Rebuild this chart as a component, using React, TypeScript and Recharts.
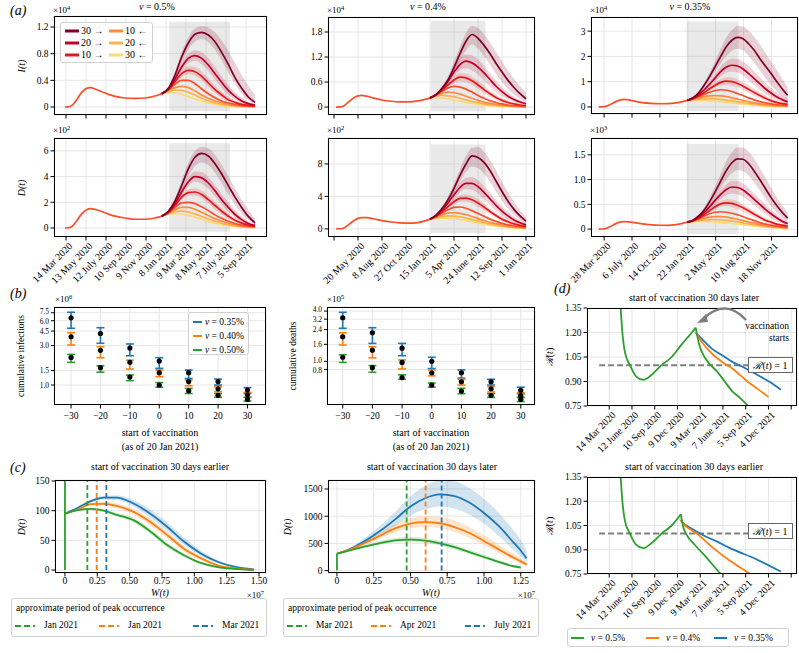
import React from 'react';
import {
  ComposedChart, ScatterChart, Line, Area, Scatter, ErrorBar, XAxis, YAxis,
  CartesianGrid, ReferenceArea, ReferenceLine,
} from 'recharts';

const FONT = '"Liberation Serif", "DejaVu Serif", serif';
// 30 ->, 20 ->, 10 ->, 0, 10 <-, 20 <-, 30 <-
const ramp = ['#800026', '#bd0026', '#e31a1c', '#fc4e2a', '#fd8d3c', '#feb24c', '#fed976'];
const BLUE = '#1f77b4';
const ORANGE = '#ff7f0e';
const GREEN = '#2ca02c';

// ---------- (a) date ticks (days since 1 Mar 2020)
const ticks05 = [13, 73, 133, 193, 253, 313, 373, 433, 493, 553];
const labels05 = ['14 Mar 2020', '13 May 2020', '12 July 2020', '10 Sep 2020', '9 Nov 2020', '8 Jan 2021', '9 Mar 2021', '8 May 2021', '7 July 2021', '5 Sep 2021'];
const ticks04 = [0, 80, 160, 240, 320, 400, 480, 560, 640];
const labels04 = ['', '20 May 2020', '8 Aug 2020', '27 Oct 2020', '15 Jan 2021', '5 Apr 2021', '24 June 2021', '12 Sep 2021', '1 Jan 2021'];
const ticks035 = [27, 127, 227, 327, 427, 527, 627];
const labels035 = ['28 Mar 2020', '6 July 2020', '14 Oct 2020', '22 Jan 2021', '2 May 2021', '10 Aug 2021', '18 Nov 2021'];

// ---------- (a) nu = 0.5%
const dayEarly05 = [10, 20, 30, 45, 60, 75, 87, 100, 120, 140, 160, 190, 220, 250, 280];
const infEarly05 = [0, 0.003, 0.02, 0.11, 0.22, 0.28, 0.29, 0.27, 0.23, 0.19, 0.16, 0.135, 0.13, 0.135, 0.165];
const dthEarly05 = [0, 0.02, 0.1, 0.55, 1.1, 1.42, 1.5, 1.45, 1.28, 1.08, 0.92, 0.78, 0.68, 0.68, 0.78];
const dayLate05 = [300, 320, 340, 360, 380, 400, 420, 440, 460, 480, 500, 520, 540, 560, 580];
const infLate05 = [
  [0.2, 0.28, 0.48, 0.75, 0.96, 1.09, 1.12, 1.08, 0.98, 0.82, 0.64, 0.44, 0.28, 0.15, 0.07],
  [0.2, 0.27, 0.42, 0.6, 0.73, 0.77, 0.73, 0.63, 0.5, 0.37, 0.25, 0.16, 0.09, 0.05, 0.03],
  [0.2, 0.26, 0.38, 0.5, 0.55, 0.53, 0.46, 0.36, 0.26, 0.18, 0.11, 0.07, 0.04, 0.025, 0.015],
  [0.2, 0.26, 0.34, 0.4, 0.4, 0.35, 0.27, 0.2, 0.14, 0.09, 0.06, 0.04, 0.025, 0.015, 0.01],
  [0.2, 0.25, 0.29, 0.31, 0.29, 0.24, 0.18, 0.13, 0.09, 0.06, 0.04, 0.025, 0.015, 0.01, 0.006],
  [0.2, 0.23, 0.255, 0.25, 0.22, 0.18, 0.13, 0.09, 0.06, 0.04, 0.025, 0.016, 0.01, 0.006, 0.004],
  [0.2, 0.215, 0.21, 0.19, 0.16, 0.12, 0.09, 0.06, 0.04, 0.025, 0.016, 0.01, 0.006, 0.004, 0.002],
];
const infLo05 = [
  [0.2, 0.26, 0.43, 0.66, 0.86, 0.98, 1.02, 0.97, 0.86, 0.7, 0.52, 0.34, 0.2, 0.1, 0.04],
  [0.2, 0.25, 0.38, 0.54, 0.66, 0.69, 0.64, 0.54, 0.41, 0.29, 0.18, 0.11, 0.06, 0.03, 0.02],
  [0.2, 0.24, 0.35, 0.45, 0.49, 0.47, 0.4, 0.3, 0.21, 0.14, 0.08, 0.05, 0.03, 0.015, 0.01],
];
const infHi05 = [
  [0.2, 0.3, 0.52, 0.82, 1.05, 1.18, 1.21, 1.19, 1.12, 1.0, 0.84, 0.66, 0.48, 0.32, 0.18],
  [0.2, 0.29, 0.46, 0.66, 0.8, 0.85, 0.82, 0.73, 0.6, 0.46, 0.33, 0.22, 0.14, 0.08, 0.05],
  [0.2, 0.28, 0.41, 0.55, 0.61, 0.6, 0.53, 0.43, 0.32, 0.23, 0.15, 0.1, 0.06, 0.04, 0.02],
];
const dthLate05 = [
  [0.92, 1.3, 2.1, 3.3, 4.6, 5.5, 5.8, 5.6, 5.0, 4.2, 3.3, 2.4, 1.6, 0.9, 0.4],
  [0.92, 1.25, 1.9, 2.8, 3.6, 4.0, 3.9, 3.5, 2.9, 2.2, 1.6, 1.05, 0.65, 0.35, 0.2],
  [0.92, 1.2, 1.75, 2.4, 2.75, 2.8, 2.6, 2.2, 1.75, 1.3, 0.92, 0.6, 0.38, 0.22, 0.12],
  [0.92, 1.18, 1.6, 1.95, 2.0, 1.9, 1.65, 1.35, 1.02, 0.75, 0.52, 0.35, 0.22, 0.14, 0.08],
  [0.92, 1.15, 1.45, 1.6, 1.6, 1.45, 1.22, 0.97, 0.73, 0.53, 0.37, 0.25, 0.16, 0.1, 0.06],
  [0.92, 1.12, 1.3, 1.32, 1.25, 1.1, 0.9, 0.7, 0.52, 0.37, 0.26, 0.17, 0.11, 0.07, 0.04],
  [0.92, 1.08, 1.12, 1.08, 0.98, 0.85, 0.68, 0.52, 0.38, 0.27, 0.19, 0.12, 0.08, 0.05, 0.03],
];
const dthLo05 = [
  [0.92, 1.2, 1.9, 2.9, 4.0, 4.8, 5.1, 4.9, 4.3, 3.5, 2.6, 1.8, 1.1, 0.6, 0.25],
  [0.92, 1.2, 1.75, 2.55, 3.25, 3.6, 3.45, 3.05, 2.45, 1.8, 1.25, 0.8, 0.45, 0.25, 0.12],
  [0.92, 1.15, 1.65, 2.2, 2.5, 2.5, 2.3, 1.9, 1.45, 1.05, 0.72, 0.45, 0.27, 0.15, 0.08],
];
const dthHi05 = [
  [0.92, 1.4, 2.3, 3.7, 5.1, 6.0, 6.3, 6.2, 5.7, 4.9, 4.0, 3.1, 2.2, 1.4, 0.7],
  [0.92, 1.3, 2.05, 3.05, 3.95, 4.4, 4.35, 3.95, 3.35, 2.65, 2.0, 1.4, 0.9, 0.5, 0.3],
  [0.92, 1.25, 1.85, 2.6, 3.0, 3.1, 2.9, 2.5, 2.05, 1.55, 1.12, 0.77, 0.5, 0.3, 0.17],
];

// ---------- (a) nu = 0.4%
const dayEarly04 = [7, 20, 35, 50, 65, 80, 92, 110, 130, 160, 190, 220, 250, 280, 300];
const infEarly04 = [0, 0.005, 0.04, 0.13, 0.22, 0.27, 0.28, 0.26, 0.22, 0.17, 0.14, 0.125, 0.125, 0.15, 0.18];
const dthEarly04 = [0, 0.02, 0.15, 0.55, 0.98, 1.3, 1.4, 1.38, 1.25, 1.02, 0.85, 0.74, 0.7, 0.78, 0.95];
const dayLate04 = [320, 340, 360, 380, 400, 420, 440, 460, 480, 500, 520, 540, 560, 580, 600, 620, 640];
const infLate04 = [
  [0.22, 0.3, 0.45, 0.65, 0.95, 1.28, 1.58, 1.74, 1.65, 1.48, 1.28, 1.05, 0.84, 0.64, 0.47, 0.32, 0.2],
  [0.22, 0.3, 0.43, 0.62, 0.84, 1.02, 1.1, 1.06, 0.96, 0.82, 0.66, 0.5, 0.37, 0.26, 0.18, 0.12, 0.08],
  [0.22, 0.29, 0.4, 0.53, 0.65, 0.72, 0.7, 0.63, 0.53, 0.42, 0.32, 0.23, 0.16, 0.11, 0.075, 0.05, 0.035],
  [0.22, 0.29, 0.38, 0.46, 0.5, 0.48, 0.43, 0.36, 0.28, 0.21, 0.15, 0.11, 0.075, 0.05, 0.035, 0.025, 0.018],
  [0.22, 0.28, 0.33, 0.36, 0.35, 0.31, 0.26, 0.21, 0.16, 0.12, 0.09, 0.065, 0.045, 0.032, 0.023, 0.016, 0.012],
  [0.22, 0.26, 0.28, 0.27, 0.25, 0.21, 0.17, 0.13, 0.1, 0.075, 0.055, 0.04, 0.028, 0.02, 0.014, 0.01, 0.008],
  [0.22, 0.23, 0.22, 0.2, 0.17, 0.14, 0.11, 0.085, 0.065, 0.048, 0.035, 0.026, 0.019, 0.014, 0.01, 0.008, 0.006],
];
const infLo04 = [
  [0.22, 0.28, 0.4, 0.57, 0.82, 1.1, 1.36, 1.5, 1.4, 1.22, 1.02, 0.8, 0.6, 0.43, 0.3, 0.2, 0.12],
  [0.22, 0.28, 0.39, 0.55, 0.74, 0.88, 0.93, 0.88, 0.78, 0.64, 0.5, 0.37, 0.26, 0.18, 0.12, 0.08, 0.05],
  [0.22, 0.28, 0.37, 0.48, 0.57, 0.62, 0.6, 0.53, 0.44, 0.34, 0.25, 0.17, 0.12, 0.08, 0.05, 0.035, 0.025],
];
const infHi04 = [
  [0.22, 0.32, 0.5, 0.74, 1.08, 1.45, 1.78, 1.95, 1.9, 1.75, 1.55, 1.32, 1.1, 0.88, 0.68, 0.5, 0.35],
  [0.22, 0.32, 0.47, 0.69, 0.94, 1.16, 1.26, 1.24, 1.14, 0.99, 0.82, 0.64, 0.48, 0.35, 0.25, 0.17, 0.12],
  [0.22, 0.3, 0.43, 0.58, 0.73, 0.81, 0.8, 0.73, 0.63, 0.51, 0.4, 0.3, 0.21, 0.15, 0.1, 0.07, 0.05],
];
const dthLate04 = [
  [1.2, 1.7, 2.5, 3.6, 5.0, 6.6, 8.0, 9.0, 8.8, 8.2, 7.2, 5.9, 4.6, 3.4, 2.4, 1.6, 0.95],
  [1.2, 1.6, 2.3, 3.2, 4.2, 5.1, 5.6, 5.6, 5.2, 4.5, 3.7, 2.9, 2.2, 1.6, 1.1, 0.75, 0.5],
  [1.2, 1.55, 2.1, 2.75, 3.35, 3.75, 3.8, 3.6, 3.2, 2.7, 2.15, 1.65, 1.2, 0.88, 0.62, 0.43, 0.3],
  [1.2, 1.5, 1.95, 2.35, 2.65, 2.7, 2.55, 2.25, 1.9, 1.55, 1.2, 0.92, 0.68, 0.5, 0.36, 0.26, 0.18],
  [1.2, 1.45, 1.75, 1.95, 2.0, 1.92, 1.75, 1.52, 1.27, 1.03, 0.8, 0.61, 0.46, 0.34, 0.24, 0.17, 0.12],
  [1.2, 1.4, 1.55, 1.6, 1.57, 1.47, 1.32, 1.14, 0.95, 0.77, 0.6, 0.46, 0.34, 0.25, 0.18, 0.13, 0.09],
  [1.2, 1.3, 1.35, 1.33, 1.26, 1.16, 1.03, 0.88, 0.73, 0.59, 0.46, 0.35, 0.26, 0.19, 0.14, 0.1, 0.07],
];
const dthLo04 = [
  [1.2, 1.6, 2.3, 3.2, 4.4, 5.8, 7.0, 7.7, 7.5, 6.8, 5.8, 4.6, 3.5, 2.5, 1.7, 1.1, 0.6],
  [1.2, 1.5, 2.1, 2.9, 3.7, 4.5, 4.9, 4.8, 4.4, 3.7, 2.9, 2.2, 1.6, 1.1, 0.75, 0.5, 0.32],
  [1.2, 1.5, 1.95, 2.5, 3.0, 3.35, 3.35, 3.15, 2.75, 2.3, 1.8, 1.35, 0.97, 0.68, 0.46, 0.31, 0.2],
];
const dthHi04 = [
  [1.2, 1.8, 2.7, 4.0, 5.6, 7.4, 9.0, 10.0, 10.1, 9.5, 8.5, 7.2, 5.8, 4.5, 3.3, 2.3, 1.5],
  [1.2, 1.7, 2.5, 3.5, 4.7, 5.7, 6.3, 6.4, 6.0, 5.3, 4.5, 3.6, 2.8, 2.1, 1.5, 1.05, 0.7],
  [1.2, 1.6, 2.25, 3.0, 3.7, 4.15, 4.25, 4.05, 3.65, 3.1, 2.5, 1.95, 1.45, 1.08, 0.78, 0.55, 0.4],
];

// ---------- (a) nu = 0.35%
const dayEarly035 = [8, 20, 35, 50, 65, 80, 98, 115, 135, 165, 195, 225, 255, 285, 305];
const infEarly035 = [0, 0.004, 0.03, 0.1, 0.19, 0.26, 0.3, 0.28, 0.23, 0.17, 0.14, 0.125, 0.13, 0.16, 0.2];
const dthEarly035 = [0, 0.002, 0.015, 0.05, 0.1, 0.135, 0.15, 0.145, 0.13, 0.105, 0.088, 0.077, 0.075, 0.09, 0.11];
const dayLate035 = [325, 345, 365, 385, 405, 425, 445, 465, 485, 505, 525, 545, 565, 585, 605, 625, 645, 665, 685];
const infLate035 = [
  [0.26, 0.36, 0.55, 0.85, 1.2, 1.6, 2.0, 2.38, 2.64, 2.75, 2.7, 2.5, 2.24, 1.92, 1.62, 1.33, 1.02, 0.72, 0.46],
  [0.26, 0.34, 0.48, 0.67, 0.9, 1.15, 1.4, 1.58, 1.65, 1.62, 1.5, 1.32, 1.12, 0.92, 0.72, 0.55, 0.4, 0.29, 0.2],
  [0.26, 0.33, 0.43, 0.56, 0.72, 0.86, 0.97, 1.02, 1.0, 0.93, 0.82, 0.7, 0.57, 0.45, 0.34, 0.25, 0.18, 0.13, 0.1],
  [0.26, 0.32, 0.4, 0.49, 0.58, 0.65, 0.68, 0.66, 0.61, 0.53, 0.45, 0.36, 0.28, 0.21, 0.16, 0.12, 0.09, 0.07, 0.05],
  [0.26, 0.31, 0.36, 0.41, 0.44, 0.45, 0.44, 0.41, 0.36, 0.31, 0.26, 0.21, 0.16, 0.12, 0.09, 0.07, 0.05, 0.04, 0.03],
  [0.26, 0.29, 0.31, 0.325, 0.33, 0.32, 0.3, 0.27, 0.24, 0.2, 0.17, 0.14, 0.11, 0.08, 0.06, 0.05, 0.04, 0.03, 0.02],
  [0.26, 0.27, 0.27, 0.265, 0.25, 0.23, 0.21, 0.19, 0.16, 0.14, 0.11, 0.09, 0.07, 0.055, 0.04, 0.03, 0.025, 0.02, 0.015],
];
const infLo035 = [
  [0.26, 0.34, 0.5, 0.75, 1.05, 1.4, 1.72, 2.02, 2.22, 2.3, 2.24, 2.02, 1.75, 1.45, 1.15, 0.88, 0.63, 0.42, 0.26],
  [0.26, 0.32, 0.44, 0.6, 0.8, 1.0, 1.2, 1.35, 1.4, 1.36, 1.24, 1.06, 0.87, 0.68, 0.51, 0.37, 0.26, 0.18, 0.12],
  [0.26, 0.32, 0.4, 0.51, 0.64, 0.76, 0.84, 0.87, 0.84, 0.77, 0.66, 0.55, 0.43, 0.33, 0.24, 0.17, 0.12, 0.08, 0.06],
];
const infHi035 = [
  [0.26, 0.38, 0.6, 0.95, 1.36, 1.82, 2.3, 2.75, 3.05, 3.2, 3.18, 3.02, 2.78, 2.48, 2.15, 1.82, 1.48, 1.12, 0.8],
  [0.26, 0.36, 0.52, 0.74, 1.0, 1.3, 1.6, 1.82, 1.92, 1.9, 1.8, 1.62, 1.4, 1.18, 0.96, 0.76, 0.58, 0.43, 0.32],
  [0.26, 0.34, 0.46, 0.61, 0.8, 0.97, 1.1, 1.17, 1.16, 1.1, 0.99, 0.86, 0.72, 0.58, 0.45, 0.34, 0.25, 0.19, 0.15],
];
const dthLate035 = [
  [0.14, 0.18, 0.26, 0.38, 0.55, 0.75, 0.97, 1.18, 1.34, 1.42, 1.41, 1.32, 1.17, 1.0, 0.82, 0.64, 0.48, 0.34, 0.22],
  [0.14, 0.17, 0.24, 0.33, 0.45, 0.58, 0.7, 0.8, 0.85, 0.84, 0.79, 0.7, 0.6, 0.5, 0.4, 0.31, 0.23, 0.16, 0.11],
  [0.14, 0.17, 0.22, 0.29, 0.37, 0.45, 0.51, 0.53, 0.52, 0.48, 0.43, 0.37, 0.3, 0.24, 0.18, 0.14, 0.1, 0.08, 0.06],
  [0.14, 0.17, 0.21, 0.26, 0.31, 0.34, 0.35, 0.34, 0.32, 0.29, 0.25, 0.21, 0.17, 0.13, 0.1, 0.08, 0.06, 0.045, 0.035],
  [0.14, 0.16, 0.19, 0.22, 0.24, 0.25, 0.25, 0.24, 0.22, 0.2, 0.17, 0.14, 0.12, 0.09, 0.07, 0.055, 0.045, 0.035, 0.025],
  [0.14, 0.155, 0.17, 0.185, 0.19, 0.19, 0.185, 0.175, 0.16, 0.145, 0.125, 0.105, 0.09, 0.07, 0.055, 0.045, 0.035, 0.025, 0.02],
  [0.14, 0.15, 0.155, 0.155, 0.15, 0.145, 0.135, 0.125, 0.115, 0.1, 0.09, 0.075, 0.065, 0.05, 0.04, 0.035, 0.025, 0.02, 0.015],
];
const dthLo035 = [
  [0.14, 0.17, 0.23, 0.33, 0.47, 0.64, 0.82, 1.0, 1.13, 1.19, 1.17, 1.08, 0.94, 0.78, 0.62, 0.47, 0.34, 0.23, 0.14],
  [0.14, 0.16, 0.22, 0.29, 0.39, 0.5, 0.6, 0.68, 0.72, 0.7, 0.65, 0.57, 0.48, 0.39, 0.3, 0.23, 0.16, 0.11, 0.07],
  [0.14, 0.16, 0.2, 0.26, 0.33, 0.4, 0.45, 0.46, 0.44, 0.4, 0.35, 0.3, 0.24, 0.19, 0.14, 0.1, 0.07, 0.05, 0.04],
];
const dthHi035 = [
  [0.14, 0.19, 0.29, 0.43, 0.63, 0.87, 1.12, 1.37, 1.55, 1.65, 1.65, 1.56, 1.42, 1.24, 1.04, 0.84, 0.65, 0.48, 0.33],
  [0.14, 0.18, 0.26, 0.37, 0.5, 0.65, 0.79, 0.9, 0.97, 0.97, 0.92, 0.83, 0.72, 0.61, 0.5, 0.39, 0.3, 0.22, 0.15],
  [0.14, 0.18, 0.24, 0.32, 0.41, 0.5, 0.57, 0.6, 0.6, 0.56, 0.5, 0.43, 0.36, 0.29, 0.22, 0.17, 0.13, 0.1, 0.08],
];

const legendALabels = ['30 →', '20 →', '10 →', '10 ←', '20 ←', '30 ←'];
const legendAColor = [0, 1, 2, 4, 5, 6];

// ---------- (b) cumulative totals, start of vaccination shift in days
const startShift = [-30, -20, -10, 0, 10, 20, 30];
const infMed035 = [6.5, 4.2, 2.8, 1.95, 1.41, 1.1, 0.87];
const infLo035b = [4.86, 3.2, 2.26, 1.59, 1.2, 1.0, 0.79];
const infHi035b = [7.6, 4.94, 3.14, 2.14, 1.52, 1.18, 0.93];
const infMed040 = [3.84, 2.63, 1.88, 1.41, 1.1, 0.9, 0.76];
const infLo040 = [3.05, 2.14, 1.56, 1.26, 0.98, 0.83, 0.71];
const infHi040 = [4.3, 2.91, 2.0, 1.52, 1.15, 0.95, 0.81];
const infMed050 = [2.16, 1.62, 1.25, 1.0, 0.85, 0.75, 0.67];
const infLo050 = [1.88, 1.43, 1.13, 0.94, 0.79, 0.71, 0.64];
const infHi050 = [2.35, 1.71, 1.32, 1.07, 0.91, 0.79, 0.71];
const dthMed035 = [3.33, 2.2, 1.44, 1.0, 0.73, 0.57, 0.45];
const dthLo035b = [2.49, 1.64, 1.17, 0.82, 0.63, 0.52, 0.41];
const dthHi035b = [3.87, 2.53, 1.64, 1.12, 0.79, 0.61, 0.49];
const dthMed040 = [1.97, 1.36, 0.97, 0.73, 0.57, 0.47, 0.39];
const dthLo040 = [1.57, 1.1, 0.81, 0.67, 0.52, 0.43, 0.37];
const dthHi040 = [2.2, 1.5, 1.04, 0.79, 0.61, 0.5, 0.42];
const dthMed050 = [1.12, 0.84, 0.64, 0.52, 0.44, 0.39, 0.35];
const dthLo050 = [0.97, 0.74, 0.61, 0.49, 0.41, 0.37, 0.33];
const dthHi050 = [1.2, 0.89, 0.69, 0.55, 0.475, 0.41, 0.37];
const infTicks = [1.0, 1.5, 3.0, 4.5, 6.0, 7.5];
const dthTicks = [0.8, 1.0, 1.6, 2.4, 3.2, 4.0];
// small vertical nudges so the crowded log tick labels do not collide
const infTickNudge: Record<string, number> = { '7.5': -1.2, '6': 0.8 };
const dthTickNudge: Record<string, number> = { '4': -1.4, '3.2': 0.8, '1': -0.8, '0.8': 0.6 };

// ---------- (c) D(t) against W(t)
const wEarlier = [0, 0.1, 0.2, 0.3, 0.4, 0.53, 0.66, 0.79, 0.92, 1.05, 1.18, 1.31, 1.46];
const dBlueEarlier = [95, 105, 116, 122, 122, 112, 95, 73, 48, 28, 14, 5.6, 1];
const dOrangeEarlier = [95, 102, 111, 111.5, 108, 98, 81, 59, 36, 20, 8, 3, 0.5];
const dGreenEarlier = [95, 101, 103, 100, 93, 84, 65, 42, 25, 12, 5, 2, 0];
const dBlueEarlierLo = [95, 104, 114, 119, 118, 107, 88, 66, 42, 24, 11, 4, 0.5];
const dBlueEarlierHi = [95, 106, 118, 125, 126, 118, 102, 80, 55, 33, 17, 7, 1.5];
const dOrangeEarlierLo = [95, 101, 109, 109, 104, 93, 75, 53, 31, 17, 6, 2, 0.3];
const dOrangeEarlierHi = [95, 103, 113, 115, 112, 103, 87, 65, 41, 23, 10, 4, 0.8];
const dGreenEarlierLo = [95, 100, 101, 98, 90, 80, 61, 38, 22, 10, 4, 1.5, 0];
const dGreenEarlierHi = [95, 102, 105, 102, 96, 88, 69, 46, 28, 14, 6, 2.5, 0.2];
const peaksEarlier = [0.32, 0.245, 0.173];

const wLater = [0, 0.1, 0.2, 0.3, 0.4, 0.5, 0.6, 0.7, 0.8, 0.9, 1.0, 1.1, 1.2, 1.25, 1.29];
const dBlueLater = [310, 410, 560, 740, 950, 1180, 1330, 1400, 1370, 1250, 1060, 820, 520, 370, 225];
const dOrangeLater = [310, 400, 520, 650, 780, 865, 890, 870, 800, 690, 545, 390, 240, 170, 110];
const dGreenLater = [310, 380, 450, 510, 555, 570, 550, 500, 430, 340, 250, 160, 80, 55, null];
const dBlueLaterLo = [310, 390, 510, 660, 830, 1010, 1130, 1180, 1140, 1030, 860, 640, 380, 260, 150];
const dBlueLaterHi = [310, 440, 620, 840, 1090, 1360, 1560, 1660, 1640, 1520, 1320, 1060, 740, 560, 380];
const dOrangeLaterLo = [310, 385, 490, 600, 710, 780, 800, 780, 710, 600, 470, 320, 190, 130, 80];
const dOrangeLaterHi = [310, 420, 560, 710, 860, 960, 1000, 990, 920, 800, 650, 480, 310, 225, 150];
const dGreenLaterLo = [310, 370, 430, 480, 520, 530, 510, 460, 390, 305, 220, 135, 60, 40, null];
const dGreenLaterHi = [310, 395, 480, 550, 600, 620, 600, 550, 475, 385, 290, 195, 105, 75, null];
const peaksLater = [0.712, 0.603, 0.474];

const peakLegendEarlier = ['Jan 2021', 'Jan 2021', 'Mar 2021'];
const peakLegendLater = ['Mar 2021', 'Apr 2021', 'July 2021'];

// ---------- (d) effective reproduction number
const ticksR = [13, 103, 193, 283, 373, 463, 553, 643, 733];
const labelsR = ['14 Mar 2020', '12 June 2020', '10 Sep 2020', '9 Dec 2020', '9 Mar 2021', '7 June 2021', '5 Sep 2021', '4 Dec 2021', ''];
const rDayUpLater = [45, 58, 65, 75, 95, 120, 148, 180, 220, 260, 296, 320, 340, 355];
const rUpLater = [1.6, 1.35, 1.2, 1.08, 1.0, 0.93, 0.91, 0.94, 1.0, 1.05, 1.12, 1.165, 1.2, 1.23];
const rDayGreenLater = [355, 370, 390, 415, 440, 470, 500, 530, 563, 575];
const rGreenLater = [1.23, 1.12, 1.05, 1.0, 0.96, 0.9, 0.84, 0.8, 0.75, 0.73];
const rDayOrangeLater = [355, 380, 420, 460, 500, 560, 600, 643];
const rOrangeLater = [1.2, 1.14, 1.07, 1.02, 0.98, 0.9, 0.855, 0.805];
const rDayBlueLater = [355, 380, 420, 460, 500, 540, 600, 650, 692];
const rBlueLater = [1.2, 1.16, 1.1, 1.06, 1.02, 0.99, 0.94, 0.895, 0.85];
const rDayUpEarlier = [45, 58, 65, 75, 95, 120, 148, 180, 220, 260, 296];
const rUpEarlier = [1.6, 1.35, 1.2, 1.08, 1.0, 0.93, 0.91, 0.94, 1.0, 1.05, 1.12];
const rDayGreenEarlier = [296, 306, 320, 346, 399, 455, 465];
const rGreenEarlier = [1.12, 1.04, 0.99, 0.94, 0.85, 0.75, 0.735];
const rDayOrangeEarlier = [296, 306, 330, 359, 425, 492, 571, 580];
const rOrangeEarlier = [1.085, 1.06, 1.03, 1.0, 0.91, 0.83, 0.75, 0.74];
const rDayBlueEarlier = [296, 300, 340, 385, 440, 491, 597, 692];
const rBlueEarlier = [1.085, 1.075, 1.03, 0.99, 0.95, 0.91, 0.84, 0.765];
const rTicks = [0.75, 0.9, 1.05, 1.2, 1.35];

// ---------- helpers
type Rect = { x: number; y: number; w: number; h: number };
const YW = 40;
const MT = 4;
const MR = 4;
const GRID = '#e6e6e6';
const tickStyle = { fontSize: 9.5, fill: '#000', fontFamily: FONT };

function epiRows(dayEarly: number[], early: number[], dayLate: number[], late: number[][], lo: number[][], hi: number[][]) {
  const rows: any[] = dayEarly.map((t, i) => ({ t, s3: early[i] }));
  dayLate.forEach((t, i) => {
    const row: any = { t };
    late.forEach((s, k) => { row['s' + k] = s[i]; });
    lo.forEach((s, k) => { row['b' + k] = [s[i], hi[k][i]]; });
    rows.push(row);
  });
  return rows;
}

function peakRows(w: number[], b: any[], o: any[], g: any[], bl: any[], bh: any[], ol: any[], oh: any[], gl: any[], gh: any[]) {
  return w.map((x, i) => ({
    w: x, b: b[i], o: o[i], g: g[i],
    bb: [bl[i], bh[i]], ob: [ol[i], oh[i]],
    gb: g[i] == null ? undefined : [gl[i], gh[i]],
  }));
}

function cumData(med: number[], lo: number[], hi: number[]) {
  return startShift.map((x, i) => ({ x, y: med[i], err: [med[i] - lo[i], hi[i] - med[i]] }));
}

function rPts(days: number[], vals: number[]) {
  return days.map((t, i) => ({ t, r: vals[i] }));
}

function dateTick(ticks: number[], labels: string[]) {
  return (p: any) => {
    const i = ticks.indexOf(p.payload.value);
    return (
      <text transform={`translate(${p.x + 2},${p.y - 1}) rotate(-45)`} textAnchor="end" dominantBaseline="hanging"
        fontSize={10} fill="#000" fontFamily={FONT}>
        {labels[i] ?? ''}
      </text>
    );
  };
}
const noTick = () => <g />;

function logTick(nudge: Record<string, number>) {
  return (p: any) => (
    <text x={p.x} y={p.y + (nudge[String(p.payload.value)] ?? 0)} textAnchor="end" dominantBaseline="central"
      fontSize={7.5} fill="#000" fontFamily={FONT}>
      {Number(p.payload.value).toFixed(1)}
    </text>
  );
}

function Frame({ w, h }: { w: number; h: number }) {
  return (
    <div style={{ position: 'absolute', left: YW, top: MT, width: w, height: h, border: '1px solid #000', boxSizing: 'border-box', pointerEvents: 'none' }} />
  );
}

function Txt({ x, y, a = 'l', size = 10, rot = 0, italic = false, children }: any) {
  const tx = a === 'c' ? '-50%' : a === 'r' ? '-100%' : '0';
  return (
    <div style={{
      position: 'absolute', left: x, top: y, transform: `translate(${tx}, -50%)${rot ? ` rotate(${rot}deg)` : ''}`,
      whiteSpace: 'nowrap', fontSize: size, fontStyle: italic ? 'italic' : 'normal', lineHeight: 1,
    }}>{children}</div>
  );
}

function Sci({ x, y, p, a = 'l' }: any) {
  return (
    <Txt x={x} y={y} a={a} size={9}>
      ×10<span style={{ fontSize: 6.5, position: 'relative', top: -3, lineHeight: 0 }}>{p}</span>
    </Txt>
  );
}

type EpiProps = {
  r: Rect; rows: any[]; domX: number[]; ticksX: number[]; labelsX?: string[];
  domY: number[]; ticksY: number[]; box: number[]; fmtY?: (v: number) => string;
};

function EpiChart({ r, rows, domX, ticksX, labelsX, domY, ticksY, box, fmtY }: EpiProps) {
  const xh = labelsX ? 64 : 8;
  return (
    <div style={{ position: 'absolute', left: r.x - YW, top: r.y - MT }}>
      <ComposedChart width={r.w + YW + MR} height={r.h + MT + xh} data={rows} margin={{ top: MT, right: MR, left: 0, bottom: 0 }}>
        <CartesianGrid stroke={GRID} />
        <ReferenceArea x1={box[0]} x2={box[1]} y1={box[2]} y2={box[3]} fill="#9a9a9a" fillOpacity={0.22} stroke="none" />
        <XAxis type="number" dataKey="t" domain={domX} ticks={ticksX} interval={0} allowDataOverflow axisLine={false}
          tickSize={3.5} tickLine={{ stroke: '#000' }} height={xh} tick={labelsX ? dateTick(ticksX, labelsX) : noTick} />
        <YAxis type="number" domain={domY} ticks={ticksY} interval={0} allowDataOverflow axisLine={false}
          tickSize={3.5} tickLine={{ stroke: '#000' }} width={YW} tick={tickStyle} tickFormatter={fmtY} />
        {[2, 1, 0].map((k) => (
          <Area key={'b' + k} type="monotone" dataKey={'b' + k} stroke="none" fill={ramp[k]} fillOpacity={0.18} isAnimationActive={false} />
        ))}
        {[6, 5, 4, 3, 2, 1, 0].map((k) => (
          <Line key={'s' + k} type="monotone" dataKey={'s' + k} stroke={ramp[k]} strokeWidth={1.7} dot={false} isAnimationActive={false} />
        ))}
      </ComposedChart>
      <Frame w={r.w} h={r.h} />
    </div>
  );
}

const dot = (p: any) => <circle cx={p.cx} cy={p.cy} r={2.6} fill="#000" />;
const minus = (v: number) => (v < 0 ? '−' + Math.abs(v) : String(v));

function CumChart({ r, domY, ticksY, nudge, series }: any) {
  return (
    <div style={{ position: 'absolute', left: r.x - YW, top: r.y - MT }}>
      <ScatterChart width={r.w + YW + MR} height={r.h + MT + 22} margin={{ top: MT, right: MR, left: 0, bottom: 0 }}>
        <CartesianGrid stroke={GRID} />
        <XAxis type="number" dataKey="x" domain={r.domX} ticks={startShift} interval={0} allowDataOverflow axisLine={false}
          tickSize={3.5} tickMargin={4} tickLine={{ stroke: '#000' }} height={22} tick={tickStyle} tickFormatter={minus} />
        <YAxis type="number" dataKey="y" scale="log" domain={domY} ticks={ticksY} interval={0} allowDataOverflow axisLine={false}
          tickSize={3} tickLine={{ stroke: '#000' }} width={YW} tick={logTick(nudge)} />
        {series.map((s: any) => (
          <Scatter key={s.color} data={s.data} fill="#000" shape={dot} isAnimationActive={false}>
            <ErrorBar dataKey="err" direction="y" width={4} stroke={s.color} strokeWidth={1.6} />
          </Scatter>
        ))}
      </ScatterChart>
      <Frame w={r.w} h={r.h} />
    </div>
  );
}

function PeakChart({ r, rows, domX, ticksX, domY, ticksY, peaks, startY }: any) {
  const cols = [BLUE, ORANGE, GREEN];
  return (
    <div style={{ position: 'absolute', left: r.x - YW, top: r.y - MT }}>
      <ComposedChart width={r.w + YW + MR} height={r.h + MT + 20} data={rows} margin={{ top: MT, right: MR, left: 0, bottom: 0 }}>
        <CartesianGrid stroke={GRID} />
        <XAxis type="number" dataKey="w" domain={domX} ticks={ticksX} interval={0} allowDataOverflow axisLine={false}
          tickSize={3.5} tickMargin={1} tickLine={{ stroke: '#000' }} height={20} tick={tickStyle}
          tickFormatter={(v: number) => (v === 0 ? '0' : v.toFixed(2))} />
        <YAxis type="number" domain={domY} ticks={ticksY} interval={0} allowDataOverflow axisLine={false}
          tickSize={3.5} tickLine={{ stroke: '#000' }} width={YW} tick={tickStyle} />
        {['bb', 'ob', 'gb'].map((k, i) => (
          <Area key={k} type="monotone" dataKey={k} stroke="none" fill={cols[i]} fillOpacity={0.2} isAnimationActive={false} />
        ))}
        {['b', 'o', 'g'].map((k, i) => (
          <Line key={k} type="monotone" dataKey={k} stroke={cols[i]} strokeWidth={1.8} dot={false} isAnimationActive={false} />
        ))}
        <ReferenceLine segment={[{ x: 0, y: 0 }, { x: 0, y: startY }]} stroke={GREEN} strokeWidth={1.8} />
        {peaks.map((p: number, i: number) => (
          <ReferenceLine key={i} segment={[{ x: p, y: 0 }, { x: p, y: domY[1] - 0.5 }]} stroke={cols[i]} strokeWidth={1.8} strokeDasharray="5 3" />
        ))}
      </ComposedChart>
      <Frame w={r.w} h={r.h} />
    </div>
  );
}

function RChart({ r, lines }: any) {
  return (
    <div style={{ position: 'absolute', left: r.x - YW, top: r.y - MT }}>
      <ComposedChart width={r.w + YW + MR} height={r.h + MT + 64} margin={{ top: MT, right: MR, left: 0, bottom: 0 }}>
        <CartesianGrid stroke={GRID} />
        <XAxis type="number" dataKey="t" domain={[-75, 756]} ticks={ticksR} interval={0} allowDataOverflow axisLine={false}
          tickSize={3.5} tickLine={{ stroke: '#000' }} height={64} tick={dateTick(ticksR, labelsR)} />
        <YAxis type="number" domain={[0.75, 1.35]} ticks={rTicks} interval={0} allowDataOverflow axisLine={false}
          tickSize={3.5} tickLine={{ stroke: '#000' }} width={YW} tick={tickStyle} tickFormatter={(v: number) => v.toFixed(2)} />
        <ReferenceLine segment={[{ x: -27, y: 1 }, { x: 580, y: 1 }]} stroke="#7f7f7f" strokeWidth={2} strokeDasharray="6 3" />
        {lines.map((l: any, i: number) => (
          <Line key={i} data={l.data} dataKey="r" type="monotone" stroke={l.color} strokeWidth={1.8} dot={false} isAnimationActive={false} />
        ))}
      </ComposedChart>
      <Frame w={r.w} h={r.h} />
    </div>
  );
}

function RBox({ x, y }: any) {
  return (
    <div style={{ position: 'absolute', left: x, top: y, width: 45, height: 16, border: '1px solid #666', background: '#fff', boxSizing: 'border-box', fontSize: 10, display: 'flex', alignItems: 'center', justifyContent: 'center' }}>
      <span><i>ℛ</i>(<i>t</i>) = 1</span>
    </div>
  );
}

function Swatch({ color, dashed, w = 20 }: any) {
  return (
    <svg width={w} height={6} style={{ display: 'block' }}>
      <line x1={0} y1={3} x2={w} y2={3} stroke={color} strokeWidth={2} strokeDasharray={dashed ? '6 3' : undefined} />
    </svg>
  );
}

function PeakLegend({ x, labels }: any) {
  const cols = [GREEN, ORANGE, BLUE];
  const off = [3, 87, 181];
  return (
    <div style={{ position: 'absolute', left: x, top: 598, width: 256, height: 39, border: '1px solid #d0d0d0', borderRadius: 3, boxSizing: 'border-box', fontSize: 9.5 }}>
      <div style={{ position: 'absolute', left: 4, top: 4 }}>approximate period of peak occurrence</div>
      {labels.map((l: string, i: number) => (
        <React.Fragment key={i}>
          <div style={{ position: 'absolute', left: off[i], top: 24 }}><Swatch color={cols[i]} dashed /></div>
          <div style={{ position: 'absolute', left: off[i] + 29, top: 21 }}>{l}</div>
        </React.Fragment>
      ))}
    </div>
  );
}

export default function App() {
  const a1I: Rect = { x: 54, y: 16, w: 213, h: 99 };
  const a1D: Rect = { x: 54, y: 138, w: 213, h: 99 };
  const a2I: Rect = { x: 328, y: 17, w: 207, h: 98 };
  const a2D: Rect = { x: 328, y: 138, w: 207, h: 99 };
  const a3I: Rect = { x: 591, y: 17, w: 207, h: 97 };
  const a3D: Rect = { x: 591, y: 138, w: 207, h: 99 };
  const b1: any = { x: 54, y: 307, w: 212, h: 98, domX: [-35.8, 36.3] };
  const b2: any = { x: 327, y: 307, w: 208, h: 98, domX: [-35.3, 34.8] };
  const c1: Rect = { x: 55, y: 480, w: 211, h: 93 };
  const c2: Rect = { x: 328, y: 480, w: 207, h: 93 };
  const d1: Rect = { x: 587, y: 308, w: 210, h: 98 };
  const d2: Rect = { x: 587, y: 477, w: 210, h: 97 };

  const infSeries = [
    { color: BLUE, data: cumData(infMed035, infLo035b, infHi035b) },
    { color: ORANGE, data: cumData(infMed040, infLo040, infHi040) },
    { color: GREEN, data: cumData(infMed050, infLo050, infHi050) },
  ];
  const dthSeries = [
    { color: BLUE, data: cumData(dthMed035, dthLo035b, dthHi035b) },
    { color: ORANGE, data: cumData(dthMed040, dthLo040, dthHi040) },
    { color: GREEN, data: cumData(dthMed050, dthLo050, dthHi050) },
  ];

  return (
    <div style={{ position: 'absolute', left: 0, top: 0, width: 799, height: 653, background: '#fff', fontFamily: FONT, color: '#000', overflow: 'hidden' }}>
      <EpiChart r={a1I} rows={epiRows(dayEarly05, infEarly05, dayLate05, infLate05, infLo05, infHi05)} domX={[-23, 616]} ticksX={ticks05}
        domY={[-0.12, 1.365]} ticksY={[0, 0.4, 0.8, 1.2]} box={[323, 505, -0.06, 1.28]} />
      <EpiChart r={a1D} rows={epiRows(dayEarly05, dthEarly05, dayLate05, dthLate05, dthLo05, dthHi05)} domX={[-23, 616]} ticksX={ticks05} labelsX={labels05}
        domY={[-0.7, 7.0]} ticksY={[0, 2, 4, 6]} box={[323, 505, -0.3, 6.6]} />
      <EpiChart r={a2I} rows={epiRows(dayEarly04, infEarly04, dayLate04, infLate04, infLo04, infHi04)} domX={[-20, 670]} ticksX={ticks04}
        domY={[-0.19, 2.16]} ticksY={[0, 0.6, 1.2, 1.8]} box={[323, 505, -0.1, 2.07]} />
      <EpiChart r={a2D} rows={epiRows(dayEarly04, dthEarly04, dayLate04, dthLate04, dthLo04, dthHi04)} domX={[-20, 670]} ticksX={ticks04} labelsX={labels04}
        domY={[-1.0, 11.2]} ticksY={[0, 4, 8]} box={[323, 505, -0.5, 10.4]} />
      <EpiChart r={a3I} rows={epiRows(dayEarly035, infEarly035, dayLate035, infLate035, infLo035, infHi035)} domX={[-20, 722]} ticksX={ticks035}
        domY={[-0.28, 3.56]} ticksY={[0, 1, 2, 3]} box={[323, 509, -0.16, 3.38]} />
      <EpiChart r={a3D} rows={epiRows(dayEarly035, dthEarly035, dayLate035, dthLate035, dthLo035, dthHi035)} domX={[-20, 722]} ticksX={ticks035} labelsX={labels035}
        domY={[-0.16, 1.84]} ticksY={[0, 0.5, 1.0, 1.5]} box={[323, 509, -0.1, 1.72]} fmtY={(v) => (v === 0 ? '0' : v.toFixed(1))} />

      <CumChart r={b1} domY={[0.573, 8.8]} ticksY={infTicks} nudge={infTickNudge} series={infSeries} />
      <CumChart r={b2} domY={[0.30, 4.48]} ticksY={dthTicks} nudge={dthTickNudge} series={dthSeries} />

      <PeakChart r={c1} rows={peakRows(wEarlier, dBlueEarlier, dOrangeEarlier, dGreenEarlier, dBlueEarlierLo, dBlueEarlierHi, dOrangeEarlierLo, dOrangeEarlierHi, dGreenEarlierLo, dGreenEarlierHi)}
        domX={[-0.077, 1.554]} ticksX={[0, 0.25, 0.5, 0.75, 1.0, 1.25, 1.5]} domY={[-5, 151.7]} ticksY={[0, 50, 100, 150]} peaks={peaksEarlier} startY={150} />
      <PeakChart r={c2} rows={peakRows(wLater, dBlueLater, dOrangeLater, dGreenLater, dBlueLaterLo, dBlueLaterHi, dOrangeLaterLo, dOrangeLaterHi, dGreenLaterLo, dGreenLaterHi)}
        domX={[-0.061, 1.347]} ticksX={[0, 0.25, 0.5, 0.75, 1.0, 1.25]} domY={[-44, 1665]} ticksY={[0, 500, 1000, 1500]} peaks={peaksLater} startY={310} />

      <RChart r={d1} lines={[
        { color: BLUE, data: rPts(rDayBlueLater, rBlueLater) },
        { color: ORANGE, data: rPts(rDayOrangeLater, rOrangeLater) },
        { color: GREEN, data: rPts(rDayUpLater, rUpLater) },
        { color: GREEN, data: rPts(rDayGreenLater, rGreenLater) },
      ]} />
      <RChart r={d2} lines={[
        { color: BLUE, data: rPts(rDayBlueEarlier, rBlueEarlier) },
        { color: ORANGE, data: rPts(rDayOrangeEarlier, rOrangeEarlier) },
        { color: GREEN, data: rPts(rDayUpEarlier, rUpEarlier) },
        { color: GREEN, data: rPts(rDayGreenEarlier, rGreenEarlier) },
      ]} />

      {/* panel letters and titles */}
      <Txt x={10} y={11} size={14} italic>(a)</Txt>
      <Txt x={10} y={294} size={14} italic>(b)</Txt>
      <Txt x={10} y={468} size={14} italic>(c)</Txt>
      <Txt x={554} y={289} size={14} italic>(d)</Txt>
      <Txt x={157} y={7} a="c"><i>ν</i> = 0.5%</Txt>
      <Txt x={428} y={7} a="c"><i>ν</i> = 0.4%</Txt>
      <Txt x={690} y={7} a="c"><i>ν</i> = 0.35%</Txt>
      <Txt x={160} y={467} a="c">start of vaccination 30 days earlier</Txt>
      <Txt x={432} y={467} a="c">start of vaccination 30 days later</Txt>
      <Txt x={694} y={298} a="c">start of vaccination 30 days later</Txt>
      <Txt x={694} y={467} a="c">start of vaccination 30 days earlier</Txt>

      {/* scale multipliers */}
      <Sci x={53} y={10} p={4} />
      <Sci x={53} y={130} p={2} />
      <Sci x={327} y={10} p={4} />
      <Sci x={327} y={130} p={2} />
      <Sci x={590} y={10} p={4} />
      <Sci x={590} y={130} p={3} />
      <Sci x={55} y={299} p={6} />
      <Sci x={327} y={299} p={5} />
      <Sci x={264} y={595} p={7} a="r" />
      <Sci x={535} y={595} p={7} a="r" />

      {/* axis labels */}
      <Txt x={22} y={66} a="c" rot={-90} italic>I(t)</Txt>
      <Txt x={22} y={188} a="c" rot={-90} italic>D(t)</Txt>
      <Txt x={22} y={356} a="c" rot={-90} size={9.5}>cumulative infections</Txt>
      <Txt x={294} y={356} a="c" rot={-90} size={9.5}>cumulative deaths</Txt>
      <Txt x={22} y={527} a="c" rot={-90} italic>D(t)</Txt>
      <Txt x={288} y={527} a="c" rot={-90} italic>D(t)</Txt>
      <Txt x={550} y={357} a="c" rot={-90}><i>ℛ</i>(<i>t</i>)</Txt>
      <Txt x={550} y={526} a="c" rot={-90}><i>ℛ</i>(<i>t</i>)</Txt>
      <Txt x={160} y={433} a="c">start of vaccination</Txt>
      <Txt x={160} y={447} a="c">(as of 20 Jan 2021)</Txt>
      <Txt x={431} y={433} a="c">start of vaccination</Txt>
      <Txt x={431} y={447} a="c">(as of 20 Jan 2021)</Txt>
      <Txt x={160} y={593} a="c" italic>W(t)</Txt>
      <Txt x={431} y={593} a="c" italic>W(t)</Txt>

      {/* (a) legend */}
      <div style={{ position: 'absolute', left: 60, top: 22, width: 93, height: 41, border: '1px solid #d0d0d0', borderRadius: 3, background: 'rgba(255,255,255,0.85)', boxSizing: 'border-box', fontSize: 10 }}>
        {legendALabels.map((l, i) => {
          const col = i < 3 ? 0 : 1;
          const row = i % 3;
          return (
            <React.Fragment key={l}>
              <div style={{ position: 'absolute', left: 4 + col * 44, top: 5 + row * 12 }}>
                <svg width={14} height={6} style={{ display: 'block' }}><line x1={0} y1={3} x2={14} y2={3} stroke={ramp[legendAColor[i]]} strokeWidth={3} /></svg>
              </div>
              <div style={{ position: 'absolute', left: 20 + col * 44, top: 2 + row * 12, lineHeight: '12px' }}>{l}</div>
            </React.Fragment>
          );
        })}
      </div>

      {/* (b) legend */}
      <div style={{ position: 'absolute', left: 188, top: 312, width: 61, height: 43, border: '1px solid #d0d0d0', borderRadius: 3, background: 'rgba(255,255,255,0.85)', boxSizing: 'border-box', fontSize: 9.5 }}>
        {[[BLUE, '0.35%'], [ORANGE, '0.40%'], [GREEN, '0.50%']].map(([c, l], i) => (
          <React.Fragment key={l}>
            <div style={{ position: 'absolute', left: 4, top: 6 + i * 14 }}><Swatch color={c} w={9} /></div>
            <div style={{ position: 'absolute', left: 16, top: 3 + i * 14, lineHeight: '12px' }}><i>ν</i> = {l}</div>
          </React.Fragment>
        ))}
      </div>

      <PeakLegend x={11} labels={peakLegendEarlier} />
      <PeakLegend x={283} labels={peakLegendLater} />

      {/* (d) annotations */}
      <RBox x={748} y={357} />
      <RBox x={748} y={523} />
      <Txt x={789} y={327} a="r" size={9.5}>vaccination</Txt>
      <Txt x={789} y={339} a="r" size={9.5}>starts</Txt>
      <svg width={799} height={653} style={{ position: 'absolute', left: 0, top: 0, pointerEvents: 'none' }}>
        <path d="M 746 320 Q 726 298 704 318" fill="none" stroke="#7f7f7f" strokeWidth={2.5} />
        <path d="M 697 323 L 706 314 L 708 322 Z" fill="#7f7f7f" />
      </svg>

      {/* (d) legend */}
      <div style={{ position: 'absolute', left: 567, top: 628, width: 222, height: 19, border: '1px solid #d0d0d0', borderRadius: 3, boxSizing: 'border-box', fontSize: 9.5 }}>
        {[[GREEN, '0.5%', 3], [ORANGE, '0.4%', 78], [BLUE, '0.35%', 146]].map(([c, l, x]: any) => (
          <React.Fragment key={l}>
            <div style={{ position: 'absolute', left: x, top: 6 }}><Swatch color={c} w={13} /></div>
            <div style={{ position: 'absolute', left: x + 20, top: 3, lineHeight: '12px' }}><i>ν</i> = {l}</div>
          </React.Fragment>
        ))}
      </div>
    </div>
  );
}
